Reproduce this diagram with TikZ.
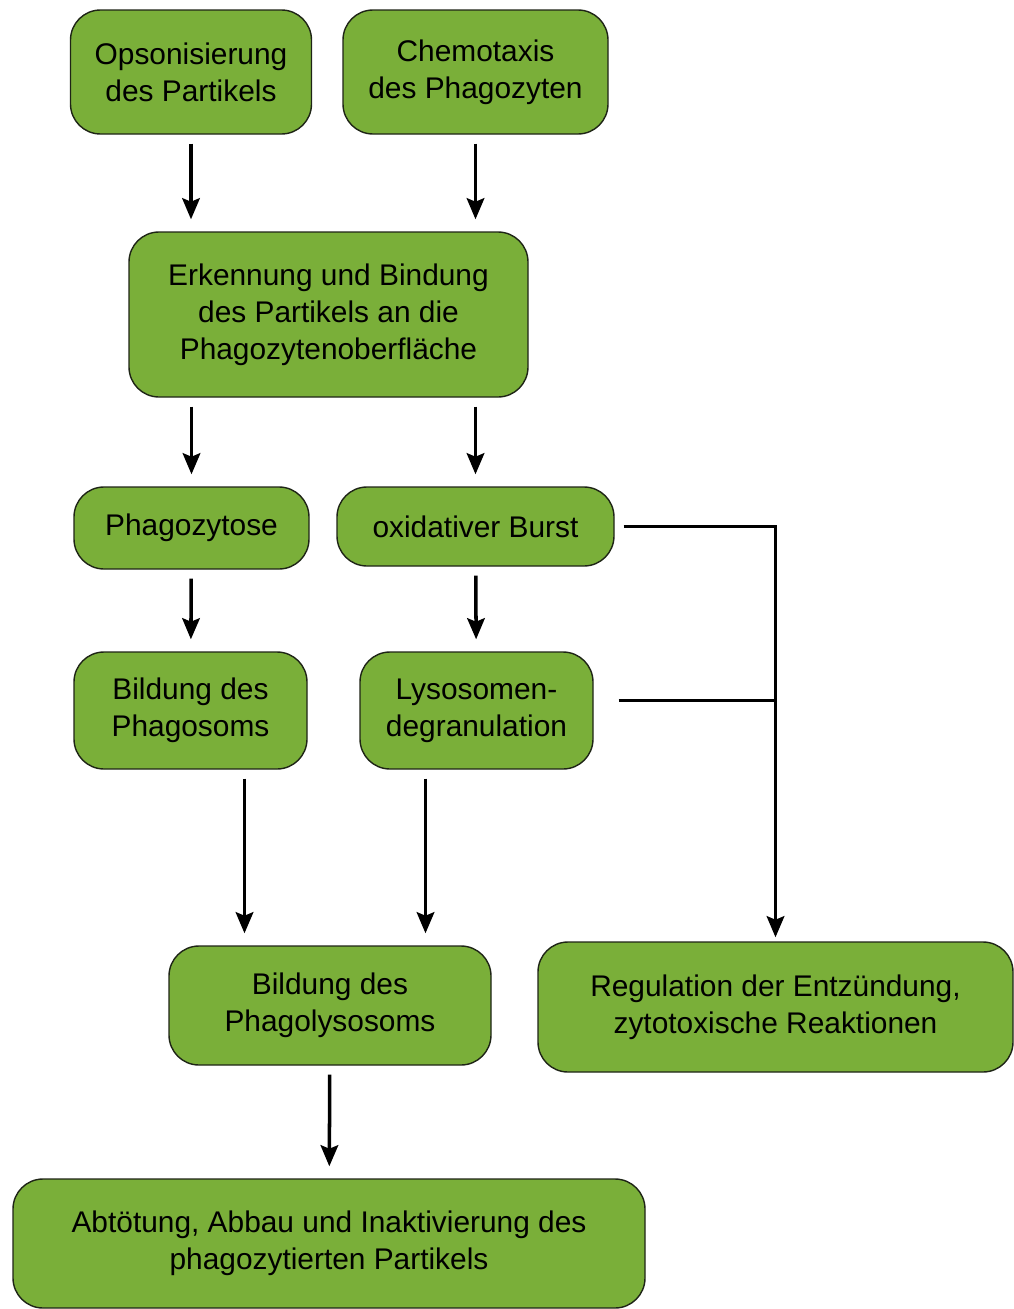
\documentclass[tikz,border=0pt]{standalone}
\usepackage{fontspec}
\setmainfont{Liberation Sans}
\usetikzlibrary{arrows.meta, positioning}
\definecolor{GN}{RGB}{122,175,57}
\definecolor{DG}{RGB}{30,36,22}
\begin{document}
\begin{tikzpicture}[
  box/.style={draw=DG, line width=0.8pt, rounded corners=0.6cm, fill=GN,
              minimum width=#1, align=center, text=black,
              font=\fontsize{17}{21}\selectfont},
  arr/.style={-{Stealth[length=12pt, width=10pt, inset=2pt]}, line width=2pt,
              shorten <=0.18cm, shorten >=0.24cm},
  lin/.style={line width=2pt}
]
\useasboundingbox (0,0) rectangle (20.26,-26.18);
% Nodes (top to bottom)
\node[box=4.82cm, minimum height=2.48cm] (ops)   at (3.82,-1.44)  {Opsonisierung\\des Partikels};
\node[box=5.30cm, minimum height=2.48cm] (chem)  at (9.51,-1.44)  {Chemotaxis\\des Phagozyten};
\node[box=7.98cm, minimum height=3.30cm] (erk)   at (6.57,-6.29)  {Erkennung und Bindung\\des Partikels an die\\Phagozytenoberfläche};
\node[box=4.70cm, minimum height=1.64cm] (phago) at (3.83,-10.56) {Phagozytose};
\node[box=5.54cm, minimum height=1.58cm] (burst) at (9.51,-10.53) {oxidativer Burst};
\node[box=4.66cm, minimum height=2.34cm] (phs)   at (3.81,-14.21) {Bildung des\\Phagosoms};
\node[box=4.66cm, minimum height=2.34cm] (lyso)  at (9.53,-14.21) {Lysosomen-\\degranulation};
\node[box=6.44cm, minimum height=2.38cm] (phls)  at (6.60,-20.11) {Bildung des\\Phagolysosoms};
\node[box=9.50cm, minimum height=2.60cm] (reg)   at (15.51,-20.14) {Regulation der Entzündung,\\zytotoxische Reaktionen};
\node[box=12.64cm, minimum height=2.58cm] (kill) at (6.58,-24.87) {Abtötung, Abbau und Inaktivierung des\\phagozytierten Partikels};

\draw[arr] (ops) -- (ops |- erk.north);
\draw[arr] (chem) -- (chem |- erk.north);
\draw[arr] (erk.south -| phago) -- (phago);
\draw[arr] (erk.south -| burst) -- (burst);
\draw[arr] (phago) -- (phs);
\draw[arr] (burst) -- (lyso);
\draw[arr] ([xshift=1.08cm]phs.south) -- ([xshift=1.08cm]phs.south |- phls.north);
\draw[arr] ([xshift=-1.02cm]lyso.south) -- ([xshift=-1.02cm]lyso.south |- phls.north);
\draw[arr] (phls) -- (kill);

% Bracket to the right
\coordinate (bj) at (reg.north |- burst.east);
\draw[arr, shorten >=0.08cm] (burst.east) -- (bj) -- (reg.north);
\draw[lin] ([xshift=0.5cm, yshift=0.2cm]lyso.east) -- ([yshift=0.2cm]lyso.east -| bj);
\end{tikzpicture}
\end{document}
